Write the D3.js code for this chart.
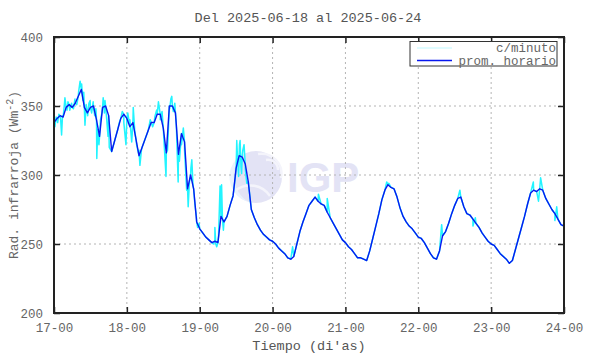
<!DOCTYPE html>
<html>
<head>
<meta charset="utf-8">
<script src="https://cdn.jsdelivr.net/npm/d3@7"></script>
<style>
  body { margin: 0; background: #fff; }
  svg { display: block; }
  text { font-family: "Liberation Mono", "DejaVu Sans Mono", monospace; fill: #555; }
</style>
</head>
<body>
<svg id="grafico" width="590" height="354"></svg>
<script>
// Etichette asse X (giorni) e valori asse Y
const dayLabels = ["17-00", "18-00", "19-00", "20-00", "21-00", "22-00", "23-00", "24-00"];
const dayHours = [0, 24, 48, 72, 96, 120, 144, 168];
const yTicks = [200, 250, 300, 350, 400];

// Promedio horario (una voce per ora, dal giorno 17 alle 00)
const prom17 = [338, 341, 343, 342, 349, 351, 349, 352, 357, 362, 349, 345, 349, 350, 340, 328, 349, 350, 343, 317, 325, 333, 341, 344];
const prom18 = [341, 335, 338, 326, 314, 320, 326, 332, 338, 338, 344, 344, 334, 316, 350, 350, 345, 315, 330, 324, 290, 300, 290, 266];
const prom19 = [261, 258, 255, 253, 251, 252, 251, 270, 266, 270, 278, 285, 305, 314, 313, 308, 295, 275, 269, 264, 260, 257, 255, 253];
const prom20 = [252, 250, 247, 245, 243, 240, 239, 241, 250, 259, 266, 272, 278, 281, 284, 281, 279, 278, 273, 269, 265, 261, 257, 253];
const prom21 = [251, 248, 246, 243, 240, 240, 239, 238, 245, 254, 263, 272, 282, 289, 293, 291, 290, 284, 276, 270, 266, 263, 261, 258];
const prom22 = [255, 254, 251, 247, 243, 240, 239, 245, 256, 259, 265, 272, 278, 283, 284, 277, 272, 271, 268, 265, 262, 258, 255, 252];
const prom23 = [250, 249, 246, 243, 241, 239, 236, 238, 246, 254, 262, 270, 279, 287, 289, 288, 290, 289, 283, 279, 275, 272, 268, 264];
const prom24 = [263];

// Picchi dei dati al minuto: [ora, valore]
const minuto = [
  [0.3, 335], [0.7, 342], [1.2, 338], [1.6, 344], [2.2, 340], [2.5, 329], [2.8, 343], [3.3, 348], [3.6, 356],
  [4.3, 347], [4.6, 353], [5.2, 347], [5.8, 352], [6.4, 348], [6.9, 355], [7.5, 351], [8.1, 360], [8.6, 368],
  [9.1, 366], [9.5, 354], [9.8, 360], [10.2, 336], [10.6, 351], [11.1, 343], [11.5, 352], [11.9, 354],
  [12.4, 345], [12.9, 353], [13.4, 343], [13.8, 348], [14.1, 312], [14.4, 333], [14.8, 322], [15.3, 340],
  [15.8, 345], [16.2, 356], [16.6, 345], [16.8, 354], [17.3, 342], [17.8, 328], [18.2, 320],
  [21.5, 338], [22.5, 346], [23.0, 338], [23.7, 322], [24.3, 345], [25.0, 340], [25.6, 324], [26.1, 349],
  [26.6, 332], [27.2, 322], [28.0, 318], [28.3, 307], [28.8, 318],
  [31.7, 340], [32.5, 335], [33.2, 342], [33.8, 347], [34.4, 353], [35.0, 340], [35.6, 346], [36.2, 326],
  [36.9, 299], [37.4, 318], [38.1, 348], [38.5, 355], [38.8, 357], [39.3, 346], [39.8, 352], [40.3, 336],
  [40.9, 295], [41.3, 310], [42.0, 322], [42.6, 334], [43.0, 318], [43.7, 289], [44.2, 277], [44.6, 295],
  [45.1, 305], [45.4, 311], [45.8, 292], [46.4, 279], [46.9, 270], [47.3, 262], [47.8, 265],
  [52.5, 250], [53.0, 262], [53.3, 250], [53.6, 248], [54.2, 256], [54.7, 292], [55.2, 293], [55.5, 268],
  [55.8, 260], [56.5, 268], [59.7, 298], [60.2, 325], [60.5, 310], [60.8, 299], [61.1, 322], [61.3, 325],
  [61.6, 306], [61.8, 301], [62.2, 318], [62.6, 322], [63.0, 305], [63.5, 294],
  [78.6, 248], [87.1, 286], [90.0, 283], [109.6, 295], [110.3, 294], [127.7, 264], [133.7, 289],
  [138.0, 263], [138.8, 269], [157.9, 295], [159.6, 281], [160.3, 298], [165.0, 267], [165.6, 277]
];

const svg = d3.select("#grafico");
const mLeft = 54, mRight = 564, mTop = 37, mBottom = 313;

const x = d3.scaleLinear().domain([0, 168]).range([mLeft, mRight]);
const y = d3.scaleLinear().domain([200, 400]).range([mBottom, mTop]);

const prom = [].concat(prom17, prom18, prom19, prom20, prom21, prom22, prom23, prom24)
  .map((v, i) => [i, v]);
// linea al minuto: medie orarie + picchi, in ordine di tempo
const serieMinuto = prom.concat(minuto).sort((a, b) => a[0] - b[0]);

// Marca d'acqua IGP
const logo = svg.append("g").attr("class", "logo");
logo.append("circle").attr("cx", 256).attr("cy", 177).attr("r", 26).attr("fill", "#e3e3f5");
logo.append("path")
  .attr("d", "M 243 154 A 26 26 0 0 0 249 202 A 30 30 0 0 1 243 154 Z")
  .attr("fill", "#eaf2fd");
logo.append("path").attr("d", "M 236 190 A 24 24 0 0 1 270 196")
  .attr("fill", "none").attr("stroke", "#f4f4fb").attr("stroke-width", 2.5);
logo.append("path").attr("d", "M 258 154 A 20 20 0 0 1 281 178")
  .attr("fill", "none").attr("stroke", "#f4f4fb").attr("stroke-width", 2.5);
logo.append("path").attr("d", "M 266 160 A 10 10 0 0 1 278 170")
  .attr("fill", "none").attr("stroke", "#f4f4fb").attr("stroke-width", 2.5);
logo.append("text")
  .attr("x", 287).attr("y", 192)
  .style("font-family", "'Liberation Sans', Arial, sans-serif")
  .style("font-weight", "bold")
  .style("font-size", "42px")
  .style("fill", "#e3e3f5")
  .text("IGP");

// Griglia
svg.append("g")
  .selectAll("line")
  .data(dayHours.slice(1, -1))
  .enter().append("line")
  .attr("x1", d => x(d)).attr("x2", d => x(d))
  .attr("y1", mTop).attr("y2", mBottom)
  .attr("stroke", "#b4b4b4").attr("stroke-dasharray", "2,3");

svg.append("g")
  .selectAll("line")
  .data(yTicks.slice(1, -1))
  .enter().append("line")
  .attr("x1", mLeft).attr("x2", mRight)
  .attr("y1", d => y(d)).attr("y2", d => y(d))
  .attr("stroke", "#b4b4b4").attr("stroke-dasharray", "2,3");

// Linee
const linea = d3.line().x(d => x(d[0])).y(d => y(d[1]));

svg.append("path")
  .datum(serieMinuto)
  .attr("d", linea)
  .attr("fill", "none")
  .attr("stroke", "#22f4ff")
  .attr("stroke-width", 1.5)
  .attr("stroke-linejoin", "round");

svg.append("path")
  .datum(prom)
  .attr("d", linea)
  .attr("fill", "none")
  .attr("stroke", "#0818f0")
  .attr("stroke-width", 1.4)
  .attr("stroke-linejoin", "round");

// Assi con tacche verso l'interno
const axisB = svg.append("g").attr("transform", `translate(0,${mBottom})`)
  .call(d3.axisBottom(x).tickValues(dayHours).tickSize(-6).tickPadding(10)
    .tickFormat((d, i) => dayLabels[i]));
const axisT = svg.append("g").attr("transform", `translate(0,${mTop})`)
  .call(d3.axisTop(x).tickValues(dayHours).tickSize(-6).tickFormat(""));
const axisL = svg.append("g").attr("transform", `translate(${mLeft},0)`)
  .call(d3.axisLeft(y).tickValues(yTicks).tickSize(-6).tickPadding(11));
const axisR = svg.append("g").attr("transform", `translate(${mRight},0)`)
  .call(d3.axisRight(y).tickValues(yTicks).tickSize(-6).tickFormat(""));

[axisB, axisT, axisL, axisR].forEach(a => {
  a.select(".domain").remove();
  a.selectAll(".tick line").attr("stroke", "#222").attr("stroke-width", 1.5);
  a.selectAll("text")
    .style("font-family", "'Liberation Mono', monospace")
    .style("font-size", "12.5px")
    .style("fill", "#666");
});

// Cornice
svg.append("rect")
  .attr("x", mLeft).attr("y", mTop)
  .attr("width", mRight - mLeft).attr("height", mBottom - mTop)
  .attr("fill", "none").attr("stroke", "#222").attr("stroke-width", 2);

// Titoli
svg.append("text")
  .attr("x", 308).attr("y", 22)
  .attr("text-anchor", "middle")
  .style("font-size", "13.5px")
  .text("Del 2025-06-18 al 2025-06-24");

svg.append("text")
  .attr("x", 309).attr("y", 350)
  .attr("text-anchor", "middle")
  .style("font-size", "13.5px")
  .text("Tiempo (di'as)");

const yTitle = svg.append("text")
  .attr("transform", "translate(18,175) rotate(-90)")
  .attr("text-anchor", "middle")
  .style("font-size", "13px")
  .style("fill", "#666");
yTitle.append("tspan").text("Rad. infrarroja (Wm");
yTitle.append("tspan").attr("dy", "-5").style("font-size", "10px").text("-2");
yTitle.append("tspan").attr("dy", "5").text(")");

// Leggenda
const leg = svg.append("g");
leg.append("rect")
  .attr("x", 410).attr("y", 41.5).attr("width", 147).attr("height", 24.5)
  .attr("fill", "#fff").attr("stroke", "#333").attr("stroke-width", 1);
leg.append("line").attr("x1", 417).attr("x2", 452).attr("y1", 48).attr("y2", 48)
  .attr("stroke", "#bff8ff").attr("stroke-width", 1);
leg.append("line").attr("x1", 417).attr("x2", 452).attr("y1", 60.5).attr("y2", 60.5)
  .attr("stroke", "#0818f0").attr("stroke-width", 1.5);
leg.append("text").attr("x", 556).attr("y", 52).attr("text-anchor", "end")
  .style("font-size", "12.5px").style("fill", "#666").text("c/minuto");
leg.append("text").attr("x", 556).attr("y", 65).attr("text-anchor", "end")
  .style("font-size", "12.5px").style("fill", "#666").text("prom. horario");
</script>
</body>
</html>
